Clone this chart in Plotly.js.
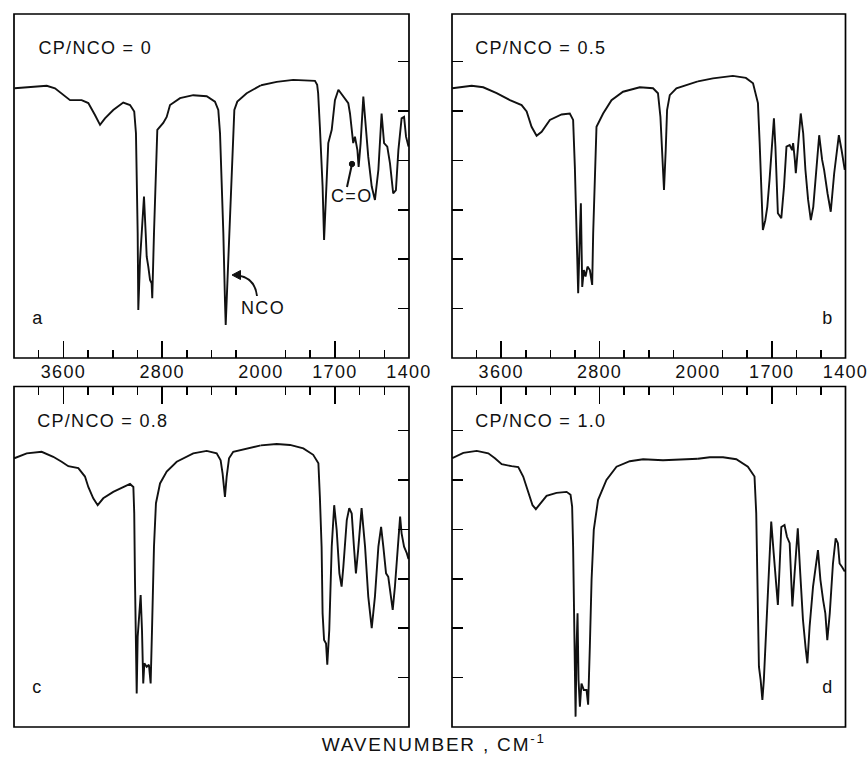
<!DOCTYPE html>
<html>
<head>
<meta charset="utf-8">
<script src="https://cdn.plot.ly/plotly-3.0.1.min.js"></script>
<style>
html,body{margin:0;padding:0;background:#fff;}
#chart{width:867px;height:765px;}
#chart text{letter-spacing:1.3px;}
#chart g.annotation[data-index="10"] text{letter-spacing:1.8px;}
</style>
</head>
<body>
<div id="chart"></div>
<script>
// ---------- DATA (wavenumber cm-1, relative transmittance) ----------
const panelLabels = ["a", "b", "c", "d"];
const ratioTitles = ["CP/NCO = 0", "CP/NCO = 0.5", "CP/NCO = 0.8", "CP/NCO = 1.0"];

const wnA = [3995,3844,3735,3668,3601,3546,3452,3398,3344,3303,3263,3196,3115,3060,3026,3012,2998,2993,2979,2966,2947,2933,2925,2912,2898,2885,2880,2866,2852,2839,2791,2763,2736,2655,2548,2439,2372,2345,2331,2318,2304,2291,2285,2277,2264,2245,2228,2215,2191,2115,2000,1936,1869,1781,1772,1768,1761,1750,1744,1736,1727,1713,1700,1686,1666,1646,1639,1632,1626,1619,1609,1604,1596,1585,1577,1565,1551,1538,1524,1511,1501,1488,1477,1464,1453,1443,1430,1420,1412,1402];
const tA  = [54.6,54.9,55.1,54.6,53.2,52.2,52.2,51.6,49.2,47.2,48.5,50.2,51.7,51.2,49.9,45.5,25.2,9.7,19.8,25.2,32.7,25.2,20.5,18.5,15.8,15.1,12.1,25.2,38.7,46.2,47.6,48.8,51.2,52.6,53.2,53.0,51.9,50.2,45.5,37.4,25.2,11.7,6.7,11.7,19.8,34.7,45.5,50.2,51.9,53.6,55.2,55.9,56.3,56.1,55.3,53.6,46.8,34.7,23.9,32.0,43.5,46.2,52.2,54.3,52.9,51.6,49.5,45.5,43.5,44.8,42.1,38.7,43.5,52.9,48.2,40.7,34.7,32.0,38.1,49.5,43.5,42.8,39.4,33.3,34.0,42.1,48.5,48.8,44.8,42.8];

const wnB = [3998,3840,3746,3637,3529,3434,3393,3353,3312,3271,3204,3109,3042,3015,3001,2987,2974,2960,2952,2941,2928,2914,2898,2879,2860,2852,2838,2825,2771,2703,2609,2473,2365,2325,2305,2292,2276,2262,2251,2229,2175,2000,1939,1858,1805,1776,1762,1756,1749,1742,1736,1726,1718,1709,1699,1691,1685,1681,1675,1661,1650,1640,1627,1617,1613,1606,1602,1593,1582,1572,1563,1552,1541,1531,1518,1507,1495,1487,1473,1460,1446,1436,1427,1416,1403];
const tB  = [54.6,55.1,54.8,53.6,52.2,51.2,49.9,46.8,45.0,45.8,48.2,49.3,49.5,48.2,38.7,25.2,13.1,25.2,31.3,14.4,17.8,16.5,18.5,17.8,14.8,25.2,38.7,46.8,49.5,52.2,53.9,54.8,54.6,53.6,48.8,42.1,34.0,42.1,50.2,53.2,54.6,56.0,56.6,57.1,56.7,55.6,53.0,51.6,43.5,34.7,25.9,27.9,30.6,36.0,42.8,48.5,42.8,38.1,29.3,28.3,34.7,42.8,43.1,42.1,43.5,40.1,37.4,42.8,49.5,45.5,38.1,32.0,27.9,30.6,38.7,45.1,40.1,38.1,33.3,29.6,37.4,41.4,45.1,42.1,38.1];

const wnC = [3998,3897,3776,3682,3614,3560,3479,3425,3398,3358,3322,3277,3196,3115,3060,3033,3026,3020,3006,2998,2985,2974,2963,2953,2944,2925,2907,2893,2882,2866,2850,2817,2763,2682,2548,2439,2358,2326,2310,2296,2291,2277,2258,2224,2115,2000,1936,1882,1828,1788,1767,1761,1754,1750,1744,1736,1731,1723,1713,1703,1693,1682,1673,1666,1652,1642,1632,1623,1615,1606,1592,1578,1565,1551,1538,1524,1513,1504,1493,1484,1474,1466,1457,1446,1436,1430,1420,1409,1402];
const tC  = [54.4,55.4,55.7,54.7,53.7,52.8,52.4,50.7,48.6,46.3,44.9,46.3,47.6,48.6,49.2,48.6,43.3,29.8,6.8,18.3,23.0,26.7,19.6,8.8,12.9,12.2,12.6,8.8,19.6,36.5,45.3,49.3,51.7,53.7,55.4,55.9,55.4,54.0,51.3,48.6,46.6,50.7,54.4,55.7,56.4,57.0,57.3,57.1,56.4,55.1,53.4,46.6,36.5,23.0,17.6,16.9,12.6,19.6,36.5,44.9,39.9,31.1,28.4,32.4,41.9,44.3,43.2,36.5,31.1,35.8,44.3,36.5,26.4,20.0,26.4,36.5,40.5,36.5,31.1,30.4,27.0,23.7,28.4,36.5,42.6,39.2,36.5,35.2,34.0];

const wnD = [3998,3908,3799,3705,3651,3596,3515,3461,3421,3380,3345,3318,3285,3231,3150,3068,3036,3023,3015,3007,3001,2995,2987,2979,2971,2960,2947,2928,2906,2893,2879,2865,2847,2812,2744,2662,2554,2446,2284,2121,2000,1952,1898,1844,1797,1770,1763,1756,1752,1745,1738,1732,1722,1711,1702,1692,1681,1675,1668,1661,1648,1638,1627,1616,1607,1594,1584,1573,1562,1555,1546,1532,1512,1502,1491,1482,1474,1464,1451,1440,1431,1424,1414,1403];
const tD  = [54.4,55.5,55.9,55.4,54.4,53.2,52.8,52.6,50.7,47.3,44.9,44.1,45.1,46.8,47.4,47.6,47.0,44.6,36.5,23.0,12.9,2.1,16.3,23.0,9.5,4.1,8.8,7.5,7.5,4.5,16.3,29.8,39.9,46.0,50.0,52.7,53.8,54.2,54.0,54.2,54.3,54.6,54.6,54.2,52.7,50.7,43.3,26.4,12.2,9.5,5.5,9.5,19.6,31.1,41.6,35.2,27.7,24.7,32.4,40.5,40.9,38.5,37.2,24.4,31.1,40.2,31.1,21.7,15.9,12.9,20.3,28.4,35.8,29.8,25.7,23.0,17.6,23.0,33.1,38.2,37.2,33.1,32.4,31.5];

// tick values / labels
const highTicks = [3600, 2800, 2000];          // 4000-2000 segment, major
const highTickText = ["3600", "2800", "2000"];
const highMinor = [3800, 3400, 3200, 3000, 2600, 2400, 2200];
const lowTicks = [1700, 1400];                 // 2000-1400 segment, major
const lowTickText = ["1700", "1400"];
const lowMinor = [1900, 1800, 1600, 1500];
const yTicks = [10, 20, 30, 40, 50, 60];
const xTitle = "WAVENUMBER , CM<sup>-1</sup>";

// ---------- LAYOUT ----------
const W = 867, H = 765;
const FONT = "Liberation Sans, Arial, Helvetica, sans-serif";
const boxes = [
  {x0: 14,  x1: 409,   y0: 14,    y1: 358, ySide: "right", xSide: "bottom"},
  {x0: 452, x1: 845.5, y0: 14,    y1: 358, ySide: "left",  xSide: "bottom"},
  {x0: 14,  x1: 409,   y0: 386.5, y1: 727, ySide: "right", xSide: "top"},
  {x0: 452, x1: 845.5, y0: 386.5, y1: 727, ySide: "left",  xSide: "top"}
];
const PXPERUNIT = 4.94;
const series = [[wnA, tA], [wnB, tB], [wnC, tC], [wnD, tD]];

const fx = px => px / W;
const fy = py => 1 - py / H;
const P = (x, y) => fx(x) + "," + fy(y);

const layout = {
  width: W, height: H, autosize: false,
  margin: {l: 0, r: 0, t: 0, b: 0, pad: 0},
  paper_bgcolor: "#fff", plot_bgcolor: "rgba(0,0,0,0)",
  showlegend: false,
  font: {family: FONT, color: "#111", size: 18},
  shapes: [], annotations: []
};
const traces = [];
const txtFont = {family: FONT, size: 18, color: "#111"};

boxes.forEach((b, i) => {
  const split = b.x0 + (b.x1 - b.x0) * 10 / 16;
  const xa = 2 * i + 1, xb = 2 * i + 2, ya = i + 1;
  const xName = n => n === 1 ? "xaxis" : "xaxis" + n;
  const xRef = n => n === 1 ? "x" : "x" + n;
  const yName = ya === 1 ? "yaxis" : "yaxis" + ya;
  const yRef = ya === 1 ? "y" : "y" + ya;
  const showLab = b.xSide === "bottom";
  const common = {
    side: b.xSide, anchor: yRef, showgrid: false, zeroline: false, showline: false,
    ticks: "inside", ticklen: 17, tickwidth: 1.6, tickcolor: "#000",
    showticklabels: showLab, tickfont: txtFont,
    tickmode: "array", fixedrange: true, ticklabelstandoff: 1
  };
  const minorStyle = {ticks: "inside", ticklen: 8, tickwidth: 1.6, tickcolor: "#000", showgrid: false, tickmode: "array"};
  layout[xName(xa)] = Object.assign({}, common, {
    domain: [fx(b.x0), fx(split)], range: [4000, 2000],
    tickvals: highTicks, ticktext: highTickText,
    minor: Object.assign({tickvals: highMinor}, minorStyle)
  });
  layout[xName(xb)] = Object.assign({}, common, {
    domain: [fx(split), fx(b.x1)], range: [2000, 1400],
    tickvals: lowTicks, ticktext: lowTickText,
    minor: Object.assign({tickvals: lowMinor}, minorStyle)
  });
  layout[yName] = {
    domain: [fy(b.y1), fy(b.y0)], range: [0, (b.y1 - b.y0) / PXPERUNIT],
    anchor: b.ySide === "right" ? xRef(xb) : xRef(xa), side: b.ySide,
    showgrid: false, zeroline: false, showline: false, showticklabels: false,
    ticks: "inside", ticklen: 11, tickwidth: 1.6, tickcolor: "#000",
    tickmode: "array", tickvals: yTicks, fixedrange: true
  };

  const [wn, t] = series[i];
  const hi = {x: [], y: []}, lo = {x: [], y: []};
  wn.forEach((w, k) => {
    if (w >= 2000) { hi.x.push(w); hi.y.push(t[k]); }
    if (w <= 2000) { lo.x.push(w); lo.y.push(t[k]); }
  });
  const line = {color: "#111", width: 1.9};
  traces.push({type: "scatter", mode: "lines", x: hi.x, y: hi.y, xaxis: xRef(xa), yaxis: yRef, line, hoverinfo: "skip"});
  traces.push({type: "scatter", mode: "lines", x: lo.x, y: lo.y, xaxis: xRef(xb), yaxis: yRef, line, hoverinfo: "skip"});

  // frame
  layout.shapes.push({type: "rect", xref: "paper", yref: "paper",
    x0: fx(b.x0), x1: fx(b.x1), y0: fy(b.y1), y1: fy(b.y0),
    line: {color: "#000", width: 1.7}, fillcolor: "rgba(0,0,0,0)"});

  // ratio title (top-left) and panel letter
  layout.annotations.push({xref: "paper", yref: "paper", x: fx(b.x0 + 29), y: fy(b.y0 + 34),
    xanchor: "left", yanchor: "middle", showarrow: false, text: ratioTitles[i], font: txtFont});
  const letterX = i % 2 === 0 ? b.x0 + 17 : b.x1 - 25;
  layout.annotations.push({xref: "paper", yref: "paper", x: fx(letterX), y: fy(b.y1 - 40),
    xanchor: "left", yanchor: "middle", showarrow: false, text: panelLabels[i], font: txtFont});
});

// NCO label with curved arrow (panel a)  -> annotation index 8
layout.annotations.push({xref: "paper", yref: "paper", x: fx(241), y: fy(308),
  xanchor: "left", yanchor: "middle", showarrow: false, text: "NCO", font: txtFont});
layout.shapes.push({type: "path", xref: "paper", yref: "paper",
  path: "M" + P(257, 296) + " Q" + P(255, 278) + " " + P(238, 275.5),
  line: {color: "#111", width: 1.9}});
layout.shapes.push({type: "path", xref: "paper", yref: "paper",
  path: "M" + P(232, 275) + " L" + P(240.5, 270.5) + " L" + P(240.5, 279.5) + " Z",
  line: {color: "#111", width: 1}, fillcolor: "#111"});

// C=O label with dot-ended pointer (panel a) -> annotation index 9
layout.annotations.push({xref: "paper", yref: "paper", x: fx(331), y: fy(196),
  xanchor: "left", yanchor: "middle", showarrow: false, text: "C=O", font: txtFont});
layout.shapes.push({type: "line", xref: "paper", yref: "paper",
  x0: fx(347), y0: fy(187), x1: fx(352), y1: fy(164), line: {color: "#111", width: 2}});
layout.shapes.push({type: "circle", xref: "paper", yref: "paper",
  x0: fx(349.3), x1: fx(354.7), y0: fy(166.7), y1: fy(161.3),
  line: {color: "#111", width: 1}, fillcolor: "#111"});

// x title -> annotation index 10
layout.annotations.push({xref: "paper", yref: "paper", x: fx(433), y: fy(743),
  xanchor: "center", yanchor: "middle", showarrow: false, text: xTitle,
  font: {family: FONT, size: 19, color: "#111"}});

Plotly.newPlot("chart", traces, layout, {staticPlot: true, displayModeBar: false});
</script>
</body>
</html>
